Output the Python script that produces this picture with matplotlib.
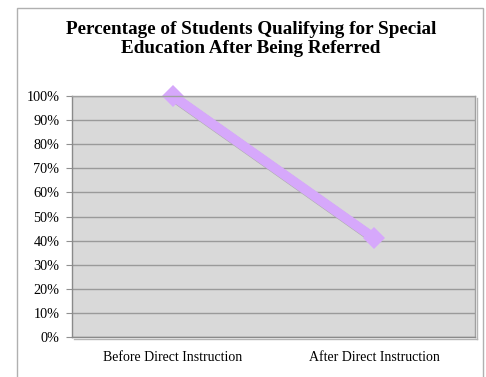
import matplotlib
matplotlib.use("Agg")
import matplotlib.pyplot as plt
import matplotlib.patheffects as pe
from matplotlib.patches import Rectangle

categories = ["Before Direct Instruction", "After Direct Instruction"]
values = [100, 41]
yticks = [0, 10, 20, 30, 40, 50, 60, 70, 80, 90, 100]
ytick_labels = [f"{v}%" for v in yticks]
title = "Percentage of Students Qualifying for Special\nEducation After Being Referred"

W, H = 486, 377
fig = plt.figure(figsize=(W / 100, H / 100), dpi=100)
fig.patch.set_facecolor("white")

# outer chart border
fig.patches.append(Rectangle((17 / W, -0.1), (483 - 17) / W, 1.1 - 8 / H,
                             transform=fig.transFigure, fill=False,
                             edgecolor="#b0b0b0", linewidth=1.0))

ax = fig.add_axes([72 / W, 1 - 337 / H, (475 - 72) / W, (337 - 96) / H])
ax.set_facecolor("#d9d9d9")
ax.set_xlim(-0.5, 1.5)
ax.set_ylim(0, 100)
ax.set_yticks(yticks)
ax.set_yticklabels(ytick_labels, family="Liberation Serif", fontsize=10.3)
ax.set_xticks(range(len(categories)))
ax.set_xticklabels(categories, family="Liberation Serif", fontsize=10)
ax.tick_params(axis="y", length=4, color="#909090", pad=5)
ax.tick_params(axis="x", length=0, pad=10)
ax.yaxis.grid(True, color="#9a9a9a", linewidth=1.0)
ax.set_axisbelow(True)
for s in ax.spines.values():
    s.set_color("#a0a0a0")
    s.set_linewidth(1.0)
ax.spines["left"].set_color("#8a8a8a")
ax.spines["bottom"].set_color("#8a8a8a")
ax.spines["right"].set_path_effects([pe.SimpleLineShadow(offset=(1.5, -1.5), shadow_color="#b5b5b5", alpha=1), pe.Normal()])
ax.spines["bottom"].set_path_effects([pe.SimpleLineShadow(offset=(1.5, -1.5), shadow_color="#b5b5b5", alpha=1), pe.Normal()])

ax.plot(range(len(values)), values, color="#d6a8fb", linewidth=7,
        marker="D", markersize=11, markeredgewidth=0, clip_on=False,
        solid_capstyle="butt",
        path_effects=[pe.SimpleLineShadow(offset=(1.5, -1.5), shadow_color="#a8a8a8", alpha=0.9), pe.Normal()])

fig.text(251 / W, 1 - 39 / H, title, ha="center", va="center",
         family="Liberation Serif", fontweight="bold", fontsize=13.8,
         linespacing=1.08)

fig.savefig("out.png", dpi=100)
